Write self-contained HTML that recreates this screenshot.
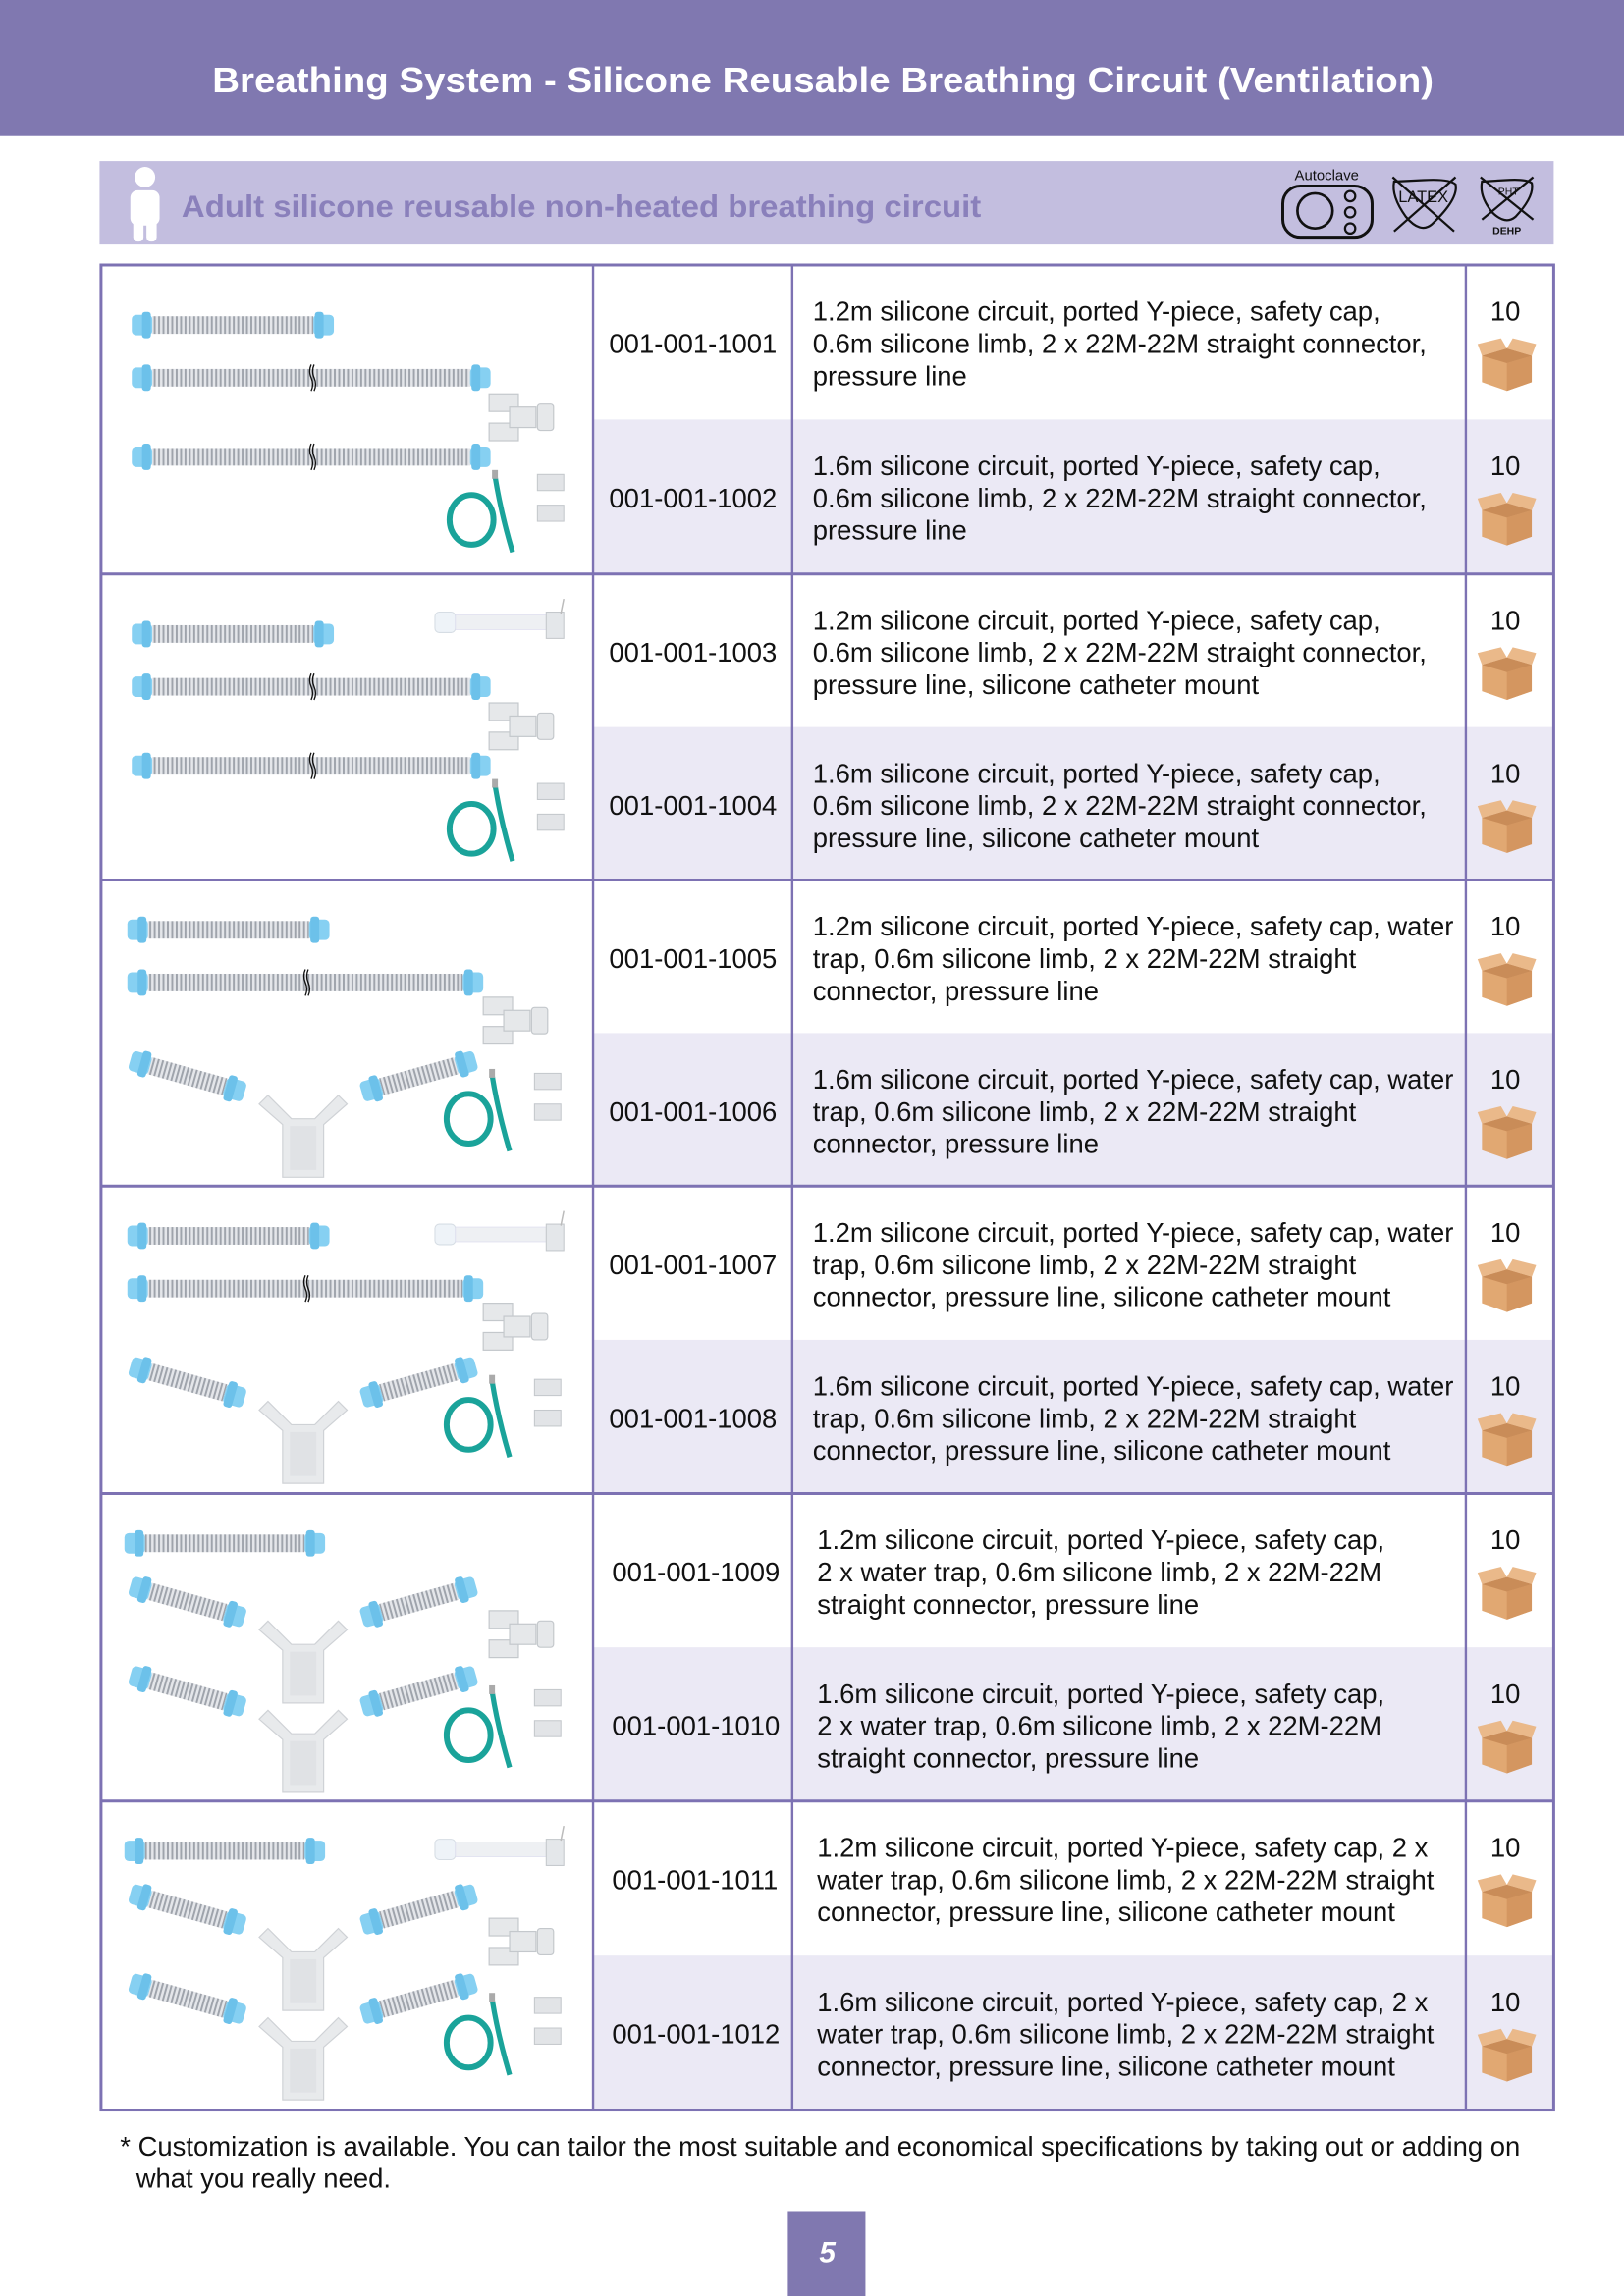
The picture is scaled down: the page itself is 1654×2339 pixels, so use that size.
<!DOCTYPE html>
<html><head><meta charset="utf-8">
<style>
html,body{margin:0;padding:0;background:#fff;}
svg{display:block;}
text{font-family:"Liberation Sans",Arial,sans-serif;}
</style></head>
<body>
<svg id="s" width="1654" height="2339" viewBox="0 0 1109 1568" preserveAspectRatio="none" xmlns="http://www.w3.org/2000/svg">
<defs>
<pattern id="rib" width="3" height="14" patternUnits="userSpaceOnUse">
<rect width="3" height="14" fill="#e4e6ea"/><rect width="1.3" height="14" fill="#9ea3ab"/>
</pattern>
</defs>
<rect x="0" y="0" width="1109" height="93" fill="#8078b0"/>
<text x="562" y="63" font-size="24" font-weight="bold" fill="#fff" text-anchor="middle" textLength="834" lengthAdjust="spacingAndGlyphs">Breathing System - Silicone Reusable Breathing Circuit (Ventilation)</text>
<rect x="68" y="110" width="993" height="57" fill="#c3bedf"/>
<g fill="#fff">
<circle cx="99" cy="121" r="7"/>
<rect x="89" y="130" width="20" height="24" rx="5"/>
<rect x="91" y="150" width="7" height="15" rx="3"/><rect x="100" y="150" width="7" height="15" rx="3"/>
</g>
<text x="124" y="148" font-size="21" font-weight="bold" fill="#8a80bb" textLength="546" lengthAdjust="spacingAndGlyphs">Adult silicone reusable non-heated breathing circuit</text>
<text x="906" y="123" font-size="10" text-anchor="middle" fill="#111">Autoclave</text>
<rect x="876" y="127" width="61" height="35" rx="12" fill="none" stroke="#111" stroke-width="2"/>
<circle cx="898" cy="144" r="12" fill="none" stroke="#111" stroke-width="1.8"/>
<circle cx="922" cy="134" r="3.5" fill="none" stroke="#111" stroke-width="1.5"/>
<circle cx="922" cy="145" r="3.5" fill="none" stroke="#111" stroke-width="1.5"/>
<circle cx="922" cy="156" r="3.5" fill="none" stroke="#111" stroke-width="1.5"/>
<path d="M952 124 Q950 134 960 148 Q970 160 978 153 Q996 136 994 126 Q990 122 972 123 Z" fill="none" stroke="#111" stroke-width="1.5"/>
<line x1="951" y1="121" x2="993" y2="158" stroke="#111" stroke-width="1.5"/><line x1="994" y1="121" x2="952" y2="158" stroke="#111" stroke-width="1.5"/>
<text x="972" y="138" font-size="11" text-anchor="middle" fill="#111">LATEX</text>
<path d="M1012 124 Q1010 134 1019 145 Q1028 154 1035 148 Q1048 134 1046 125 Q1042 122 1028 123 Z" fill="none" stroke="#111" stroke-width="1.5"/>
<line x1="1011" y1="121" x2="1047" y2="150" stroke="#111" stroke-width="1.5"/><line x1="1047" y1="121" x2="1012" y2="150" stroke="#111" stroke-width="1.5"/>
<text x="1030" y="133" font-size="7" text-anchor="middle" fill="#111">PHT</text>
<text x="1029" y="160" font-size="7" font-weight="bold" text-anchor="middle" fill="#111">DEHP</text>
<g id="tbl"></g>
<text x="82" y="1472" font-size="18.4" fill="#111">* Customization is available. You can tailor the most suitable and economical specifications by taking out or adding on</text>
<text x="93" y="1494" font-size="18.4" fill="#111">what you really need.</text>
<rect x="538" y="1510" width="53" height="58" fill="#8078b0"/>
<text x="565" y="1545" font-size="20" font-weight="bold" font-style="italic" fill="#fff" text-anchor="middle">5</text>
</svg>
<script>
var tops=[181,392,601,810,1020,1230,1441];
var D=[
["1.2m silicone circuit, ported Y-piece, safety cap,","0.6m silicone limb, 2 x 22M-22M straight connector,","pressure line"],
["1.6m silicone circuit, ported Y-piece, safety cap,","0.6m silicone limb, 2 x 22M-22M straight connector,","pressure line"],
["1.2m silicone circuit, ported Y-piece, safety cap,","0.6m silicone limb, 2 x 22M-22M straight connector,","pressure line, silicone catheter mount"],
["1.6m silicone circuit, ported Y-piece, safety cap,","0.6m silicone limb, 2 x 22M-22M straight connector,","pressure line, silicone catheter mount"],
["1.2m silicone circuit, ported Y-piece, safety cap, water","trap, 0.6m silicone limb, 2 x 22M-22M straight","connector, pressure line"],
["1.6m silicone circuit, ported Y-piece, safety cap, water","trap, 0.6m silicone limb, 2 x 22M-22M straight","connector, pressure line"],
["1.2m silicone circuit, ported Y-piece, safety cap, water","trap, 0.6m silicone limb, 2 x 22M-22M straight","connector, pressure line, silicone catheter mount"],
["1.6m silicone circuit, ported Y-piece, safety cap, water","trap, 0.6m silicone limb, 2 x 22M-22M straight","connector, pressure line, silicone catheter mount"],
["1.2m silicone circuit, ported Y-piece, safety cap,","2 x water trap, 0.6m silicone limb, 2 x 22M-22M","straight connector, pressure line"],
["1.6m silicone circuit, ported Y-piece, safety cap,","2 x water trap, 0.6m silicone limb, 2 x 22M-22M","straight connector, pressure line"],
["1.2m silicone circuit, ported Y-piece, safety cap, 2 x","water trap, 0.6m silicone limb, 2 x 22M-22M straight","connector, pressure line, silicone catheter mount"],
["1.6m silicone circuit, ported Y-piece, safety cap, 2 x","water trap, 0.6m silicone limb, 2 x 22M-22M straight","connector, pressure line, silicone catheter mount"]];
var h='';
function tube(x1,x2,y,brk){var s='<rect x="'+(x1+14)+'" y="'+(y-6)+'" width="'+(x2-x1-28)+'" height="12" fill="url(#rib)"/>';
s+='<rect x="'+x1+'" y="'+(y-7)+'" width="14" height="14" rx="3" fill="#86d0f2"/><rect x="'+(x1+7)+'" y="'+(y-9)+'" width="6" height="18" rx="2" fill="#6cc1ea"/>';
s+='<rect x="'+(x2-14)+'" y="'+(y-7)+'" width="14" height="14" rx="3" fill="#86d0f2"/><rect x="'+(x2-13)+'" y="'+(y-9)+'" width="6" height="18" rx="2" fill="#6cc1ea"/>';
if(brk){var m=(x1+x2)/2;s+='<path d="M'+m+' '+(y-9)+' q-2 4.5 0 9 q2 4.5 0 9 M'+(m+2)+' '+(y-9)+' q-2 4.5 0 9 q2 4.5 0 9" stroke="#111" stroke-width="0.9" fill="none"/>';}
return s;}
function ypiece(x,y){return '<g fill="#e6e8ea" stroke="#c4c8cc" stroke-width="0.8"><rect x="'+x+'" y="'+(y-16)+'" width="20" height="12"/><rect x="'+x+'" y="'+(y+4)+'" width="20" height="12"/><rect x="'+(x+14)+'" y="'+(y-7)+'" width="18" height="14"/><rect x="'+(x+33)+'" y="'+(y-9)+'" width="11" height="18" rx="2"/></g>';}
function coil(x,y){return '<ellipse cx="'+x+'" cy="'+y+'" rx="15" ry="17" fill="none" stroke="#1aa39a" stroke-width="4"/><path d="M'+(x+16)+' '+(y-30)+' Q'+(x+20)+' '+(y-5)+' '+(x+28)+' '+(y+22)+'" fill="none" stroke="#1aa39a" stroke-width="3.5"/><rect x="'+(x+14)+'" y="'+(y-34)+'" width="4" height="6" fill="#aaa"/>'+
'<g fill="#e2e4e7" stroke="#c4c8cc" stroke-width="0.7"><rect x="'+(x+45)+'" y="'+(y-31)+'" width="18" height="11"/><rect x="'+(x+45)+'" y="'+(y-10)+'" width="18" height="11"/></g>';}
function cath(x,y){return '<rect x="'+x+'" y="'+(y-7)+'" width="14" height="14" rx="3" fill="#eef3f8" stroke="#d6dde4" stroke-width="0.7"/><rect x="'+(x+14)+'" y="'+(y-5)+'" width="62" height="10" fill="#eef0f3" stroke="#dde" stroke-width="0.5"/><rect x="'+(x+76)+'" y="'+(y-7)+'" width="12" height="18" fill="#e4e7ea" stroke="#c4c8cc" stroke-width="0.7"/><line x1="'+(x+88)+'" y1="'+(y-16)+'" x2="'+(x+86)+'" y2="'+(y-6)+'" stroke="#bbb"/>';}
function arm(x1,y1,x2,y2){var dx=x2-x1,dy=y2-y1,L=Math.sqrt(dx*dx+dy*dy),a=Math.atan2(dy,dx)*180/Math.PI;
return '<g transform="translate('+x1+' '+y1+') rotate('+a+')">'+tube(0,L,0,false)+'</g>';}
function trap(cx,y){var s='';
s+=arm(cx-118,y,cx-40,y+22)+arm(cx+118,y,cx+40,y+22);
s+='<g transform="translate('+cx+' '+y+')"><path d="M-24 24 L-8 40 L8 40 L24 24 L30 30 L14 44 L14 80 L-14 80 L-14 44 L-30 30 Z" fill="#e8eaec" stroke="#cfd2d6" stroke-width="0.8"/><rect x="-9" y="45" width="18" height="30" fill="#e0e2e5"/></g>';
return s;}
for(var g=0;g<6;g++){
 var t=tops[g],b=tops[g+1],m=(t+b)/2;
 h+='<rect x="541" y="'+m+'" width="520" height="'+(b-m)+'" fill="#ebe9f5"/><rect x="405" y="'+m+'" width="136" height="'+(b-m)+'" fill="#ebe9f5"/>';
 if(g<2){h+=tube(90,228,t+41,false)+tube(90,335,t+77,true)+ypiece(334,t+104)+tube(90,335,t+131,true)+coil(322,t+174);}
 else if(g<4){h+=tube(87,225,t+34,false)+tube(87,330,t+70,true)+ypiece(330,t+96)+trap(207,t+123)+coil(320,t+163);}
 else{h+=tube(85,222,t+34,false)+trap(207,t+63)+ypiece(334,t+96)+trap(207,t+124)+coil(320,t+165);}
 if(g%2==1){h+=cath(297,t+33);}
}
for(var i=0;i<12;i++){
 var g=Math.floor(i/2),t=tops[g],b=tops[g+1],m=(t+b)/2,rt=(i%2==0)?t:m;
 var y0=rt+38, cx=(g>=4)?558:555;
 h+='<text x="'+(g>=4?418:416)+'" y="'+(y0+22)+'" font-size="18.4" fill="#111">001-001-'+(1001+i)+'</text>';
 for(var k=0;k<3;k++)h+='<text x="'+cx+'" y="'+(y0+22*k)+'" font-size="18.4" fill="#111">'+D[i][k]+'</text>';
 h+='<text x="1028" y="'+y0+'" font-size="18.4" fill="#111" text-anchor="middle">10</text>';
 var by=y0+16;
 h+='<g transform="translate(1029 '+by+')"><path d="M-17 8 L0 3 L17 8 L17 26 L0 32 L-17 26 Z" fill="#e1a872"/><path d="M0 13 L0 32 L17 26 L17 8 Z" fill="#d49660"/><path d="M-17 8 L-20 0 L-4 -4 L0 3 Z" fill="#eab98a"/><path d="M17 8 L20 0 L4 -4 L0 3 Z" fill="#eab98a"/><path d="M-17 8 L0 13 L17 8 L0 3 Z" fill="#c98c58"/></g>';
}
var C='#7d72b3';
h+='<rect x="69" y="181" width="992" height="1260" fill="none" stroke="'+C+'" stroke-width="2"/>';
[405,541,1001].forEach(function(x){h+='<line x1="'+x+'" y1="181" x2="'+x+'" y2="1441" stroke="'+C+'" stroke-width="1.6"/>';});
for(var g=1;g<6;g++)h+='<line x1="69" y1="'+tops[g]+'" x2="1061" y2="'+tops[g]+'" stroke="'+C+'" stroke-width="2"/>';
document.getElementById('tbl').innerHTML=h;
</script>
</body></html>
